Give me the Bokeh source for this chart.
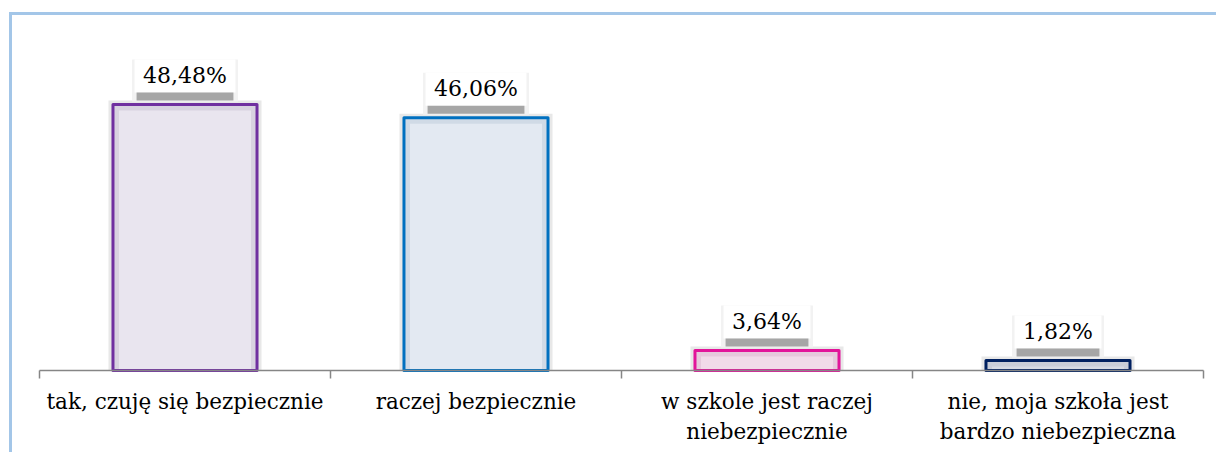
from bokeh.plotting import figure
from bokeh.models import FixedTicker, Range1d
from bokeh.core.properties import value
from bokeh.embed import file_html
from bokeh.resources import INLINE

# ---- data ----
categories = [
    "tak, czuję się bezpiecznie",
    "raczej bezpiecznie",
    "w szkole jest raczej\nniebezpiecznie",
    "nie, moja szkoła jest\nbardzo niebezpieczna",
]
values = [48.48, 46.06, 3.64, 1.82]
labels = ["48,48%", "46,06%", "3,64%", "1,82%"]

# ---- styles ----
outline_colors = ["#7030A0", "#0070C0", "#E2149A", "#002060"]
fill_colors = ["#E9E5EF", "#E3E9F2", "#F1DAE9", "#D6DAE3"]
band_colors = ["#D8D2E0", "#D0DAE6", "#E6C8DC", "#C9CDD8"]
FONT = "DejaVu Serif"
FS_LAB = 22
FS_CAT = 21.5

# canvas origin on page = (12, 15) (CSS margin + border; page margin is 0)
W, H = 1207, 440
X0 = 27          # canvas x of first category boundary
CAT_W = 291.0    # px per category
BASE = 355       # canvas y of the baseline
TOP = 30         # canvas y of frame top
PPU = 5.487      # px per percentage point

x_start = -X0 / CAT_W
x_end = (W - X0) / CAT_W
y_end = (BASE - TOP) / PPU
y_start = -(H - BASE) / PPU

def px_y(px):
    return px / PPU

def px_x(px):
    return px / CAT_W

# DejaVu Serif advance widths (em) for the label boxes
cw = {",": 0.318, "%": 0.95}
def text_w(s):
    return sum(cw.get(c, 0.636) for c in s) * FS_LAB

p = figure(width=W, height=H, x_range=Range1d(x_start, x_end),
           y_range=Range1d(y_start, y_end),
           output_backend="svg", toolbar_location=None, y_axis_location=None,
           x_axis_location="above",
           min_border_left=0, min_border_right=0, min_border_top=TOP,
           min_border_bottom=0)
p.grid.visible = False
p.outline_line_color = None
p.background_fill_color = "white"
p.border_fill_color = "white"
p.styles = {"border-left": "3px solid #A3C6E8", "border-top": "3px solid #A3C6E8",
            "margin-left": "9px", "margin-top": "12px"}

xs = [i + 0.5 for i in range(len(values))]
BW = 0.495

# glow
p.vbar(x=xs, top=[v + px_y(4) for v in values], width=BW + px_x(9),
       fill_color="#E8E8E8", line_color=None)
# inner band
p.vbar(x=xs, top=values, width=BW, fill_color=band_colors, line_color=None)
# main fill
p.vbar(x=xs, top=[max(v - px_y(6), 0) for v in values], width=BW - px_x(12),
       fill_color=fill_colors, line_color=None)
# outline
p.vbar(x=xs, top=values, width=BW, fill_color=None, line_color=outline_colors,
       line_width=3, line_join="round")

# data labels
tws = [text_w(s) for s in labels]
p.rect(x=xs, y=[v + px_y(24) for v in values], width=[t + 22 for t in tws],
       width_units="screen", height=42, height_units="screen",
       fill_color="#F2F2F2", line_color=None)
p.rect(x=xs, y=[v + px_y(28.5) for v in values], width=[t + 17 for t in tws],
       width_units="screen", height=33, height_units="screen",
       fill_color="white", line_color=None)
p.rect(x=xs, y=[v + px_y(8) for v in values], width=[t + 13 for t in tws],
       width_units="screen", height=8, height_units="screen",
       fill_color="#A6A6A6", line_color=None)
p.text(x=xs, y=values, text=labels, y_offset=-29,
       text_align="center", text_baseline="alphabetic",
       text_font=value(FONT), text_font_size=f"{FS_LAB}px", text_color="black")

# category labels (below the baseline)
line1 = [c.split("\n")[0] for c in categories]
line2 = [c.split("\n")[1] if "\n" in c else "" for c in categories]
p.text(x=xs, y=[0] * len(xs), text=line1, y_offset=31,
       text_align="center", text_baseline="alphabetic",
       text_font=value(FONT), text_font_size=f"{FS_CAT}px", text_color="black")
p.text(x=xs, y=[0] * len(xs), text=line2, y_offset=61,
       text_align="center", text_baseline="alphabetic",
       text_font=value(FONT), text_font_size=f"{FS_CAT}px", text_color="black")

# category axis line with boundary ticks
ax = p.xaxis[0]
ax.fixed_location = 0
ax.bounds = (0, len(values))
ax.ticker = FixedTicker(ticks=[], minor_ticks=list(range(len(values) + 1)))
ax.major_label_text_font_size = "0px"
ax.major_tick_line_color = None
ax.major_tick_out = 0
ax.major_tick_in = 0
ax.major_label_standoff = 0
ax.minor_tick_out = 0
ax.minor_tick_in = 8
ax.minor_tick_line_color = "#868686"
ax.axis_line_color = "#868686"
ax.axis_line_width = 1.5
ax.minor_tick_line_width = 1.5

open("out.html", "w").write(file_html(p, INLINE))
